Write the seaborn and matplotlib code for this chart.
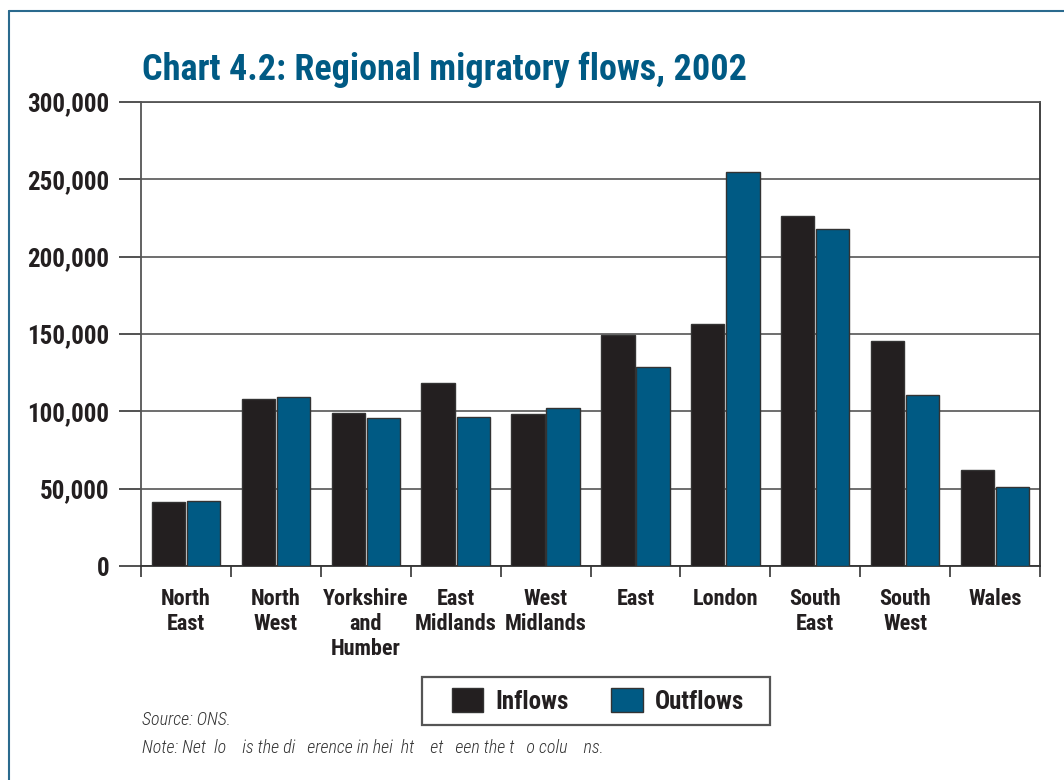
import matplotlib
matplotlib.use("Agg")
import matplotlib.pyplot as plt
from matplotlib.patches import Patch, Rectangle
from matplotlib.ticker import FuncFormatter, FixedLocator
import seaborn as sns
import pandas as pd

regions = ["North\nEast", "North\nWest", "Yorkshire\nand\nHumber", "East\nMidlands",
           "West\nMidlands", "East", "London", "South\nEast", "South\nWest", "Wales"]
inflows = [41600, 107800, 98900, 118500, 98100, 149300, 156300, 226000, 145300, 62000]
outflows = [42200, 109500, 95700, 96600, 102000, 128500, 254500, 217900, 110400, 50900]
series = ["Inflows", "Outflows"]
colors = ["#231f20", "#005a84"]
y_ticks = [0, 50000, 100000, 150000, 200000, 250000, 300000]

title = "Chart 4.2: Regional migratory flows, 2002"
source = "Source: ONS."
note = "Note: Net  lo    is the di   erence in hei  ht    et   een the t   o colu    ns."

df = pd.DataFrame({
    "region": regions * 2,
    "value": inflows + outflows,
    "flow": [series[0]] * len(regions) + [series[1]] * len(regions),
})

sns.set_style("white")
font = ["DejaVu Sans Condensed", "Liberation Sans Narrow", "Roboto Condensed", "Lato", "DejaVu Sans"]
plt.rcParams["font.family"] = font

fig = plt.figure(figsize=(10.64, 7.8), dpi=100)
ax = fig.add_axes([141 / 1064, 1 - 566 / 780, (1040 - 141) / 1064, (566 - 102) / 780])

sns.barplot(data=df, x="region", y="value", hue="flow", palette=colors, saturation=1,
            width=0.78, gap=0.05, edgecolor="#333333", linewidth=1.0,
            ax=ax, legend=False, zorder=3)

ax.set_ylim(0, 300000)
ax.set_xlim(-0.5, len(regions) - 0.5)
ax.yaxis.set_major_locator(FixedLocator(y_ticks))
ax.yaxis.set_major_formatter(FuncFormatter(lambda v, p: f"{int(v):,}"))
ax.grid(axis="y", color="#555555", linewidth=1.2, zorder=0)
ax.set_axisbelow(True)
ax.set_xlabel("")
ax.set_ylabel("")

for side in ["left", "right", "top", "bottom"]:
    ax.spines[side].set_visible(True)
    ax.spines[side].set_color("#555555")
    ax.spines[side].set_linewidth(1.3)
ax.spines["bottom"].set_color("#333333")
ax.spines["right"].set_color("#333333")

ax.tick_params(axis="y", which="major", length=16, width=1.2, color="#333333",
               pad=7, labelsize=18, labelcolor="#231f20", left=True)
for lbl in ax.get_yticklabels():
    lbl.set_fontweight("bold")

ax.set_xticks(range(len(regions)))
ax.set_xticklabels(regions, fontsize=16, fontweight="bold", color="#231f20",
                   linespacing=1.18, va="top")
ax.tick_params(axis="x", which="major", length=0, pad=16)
ax.set_xticks([i - 0.5 for i in range(len(regions) + 1)], minor=True)
ax.tick_params(axis="x", which="minor", length=8, width=1.2, color="#333333",
               bottom=True)

fig.text(142 / 1064, 1 - 80 / 780, title, fontsize=26, fontweight="bold",
         color="#005a84", ha="left", va="baseline")

# legend box
fig.add_artist(Rectangle((422 / 1064, 1 - 725 / 780), (770 - 422) / 1064, 48 / 780,
                         transform=fig.transFigure, facecolor="white",
                         edgecolor="#555555", linewidth=1.6, zorder=4))
handles = [Patch(facecolor=c, edgecolor="#333333", linewidth=1.0) for c in colors]
leg = fig.legend(handles, series, loc="center", bbox_to_anchor=(598 / 1064, 1 - 701 / 780),
                 ncol=2, frameon=False,
                 prop={"weight": "bold", "size": 18, "family": font},
                 handlelength=1.25, handleheight=1.05, handletextpad=0.5,
                 columnspacing=1.7, borderpad=0.4, borderaxespad=0)
leg.set_zorder(5)
for t in leg.get_texts():
    t.set_color("#231f20")

fig.text(142 / 1064, 1 - 720 / 780, source, fontsize=13, style="italic",
         fontweight="light", color="#333333", ha="left", va="center")
fig.text(142 / 1064, 1 - 748 / 780, note, fontsize=13, style="italic",
         fontweight="light", color="#333333", ha="left", va="center")

# outer frame of the panel
fig.add_artist(plt.Line2D([9 / 1064, 9 / 1064], [0, 1 - 11 / 780],
                          transform=fig.transFigure, color="#2a6a8e", linewidth=1.5))
fig.add_artist(plt.Line2D([9 / 1064, 1], [1 - 11 / 780, 1 - 11 / 780],
                          transform=fig.transFigure, color="#2a6a8e", linewidth=1.5))

fig.savefig("out.png", dpi=100)
